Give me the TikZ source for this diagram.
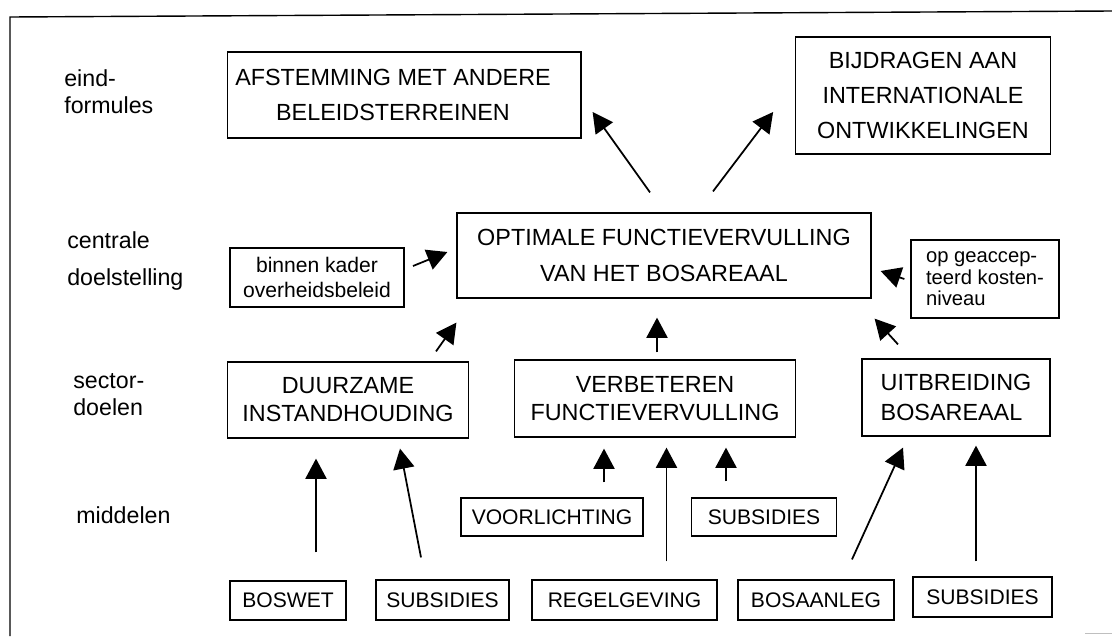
\documentclass[tikz,border=0pt]{standalone}
\usepackage{fontspec}
\setmainfont{Liberation Sans}
\usetikzlibrary{positioning,fit,arrows.meta}
\newlength\pxl
\setlength\pxl{0.02cm}
\tikzset{
  box/.style={draw, line width=0.7pt, inner sep=0pt, align=center},
  bigtxt/.style={font=\fontsize{13.3}{19.5}\selectfont},
  sectxt/.style={font=\fontsize{13.3}{16}\selectfont},
  smalltxt/.style={font=\fontsize{12}{14.2}\selectfont},
  meantxt/.style={font=\fontsize{12}{14}\selectfont},
  lvl/.style={anchor=west, inner sep=0pt, align=left, font=\fontsize{13.2}{15.3}\selectfont}
}

\begin{document}
\begin{tikzpicture}[x=0.02cm, y=-0.02cm, >={Triangle[length=11.5pt,width=12pt]}]
  \useasboundingbox (0,0) rectangle (1112,636);
  \draw[line width=0.8pt] (10,636) -- (10,17) -- (1112,11);
  \draw[gray!50, line width=0.5pt] (1085,633) -- (1112,633);

  \node[lvl] (eind) at (64,92) {eind-\\formules};
  \node[lvl, font=\fontsize{13.2}{21}\selectfont] (centr) at (67,261) {centrale\\doelstelling};
  \node[lvl] (sector) at (73,395) {sector-\\doelen};
  \node[lvl] (midd) at (76,515) {middelen};

  \coordinate (afstnw) at (227.5,52);
  \coordinate (afstse) at (581,138);
  \node[bigtxt, align=center] (afsttxt) at (393,95) {AFSTEMMING MET ANDERE\\BELEIDSTERREINEN};
  \node[box, fit=(afstnw)(afstse)] (afst) {};
  \node[box, font=\fontsize{13.3}{20}\selectfont, minimum width=255.5\pxl, minimum height=117\pxl] (bijd) at (923,95.5)
      {BIJDRAGEN AAN\\INTERNATIONALE\\ONTWIKKELINGEN};

  \node[box, font=\fontsize{13.3}{21}\selectfont, minimum width=414\pxl, minimum height=85\pxl] (opt) at (664,255.5)
      {OPTIMALE FUNCTIEVERVULLING\\VAN HET BOSAREAAL};
  \node[box, smalltxt, minimum width=174\pxl, minimum height=59\pxl] (binnen) at (317,277.5)
      {binnen kader\\overheidsbeleid};
  \node[box, font=\fontsize{11.5}{12.3}\selectfont, align=left, minimum width=148\pxl, minimum height=78\pxl] (kosten) at (985,279)
      {op geaccep-\\teerd kosten-\\niveau};

  \node[box, sectxt, minimum width=240.6\pxl, minimum height=76\pxl] (duurz) at (348,400)
      {DUURZAME\\INSTANDHOUDING};
  \node[box, sectxt, minimum width=280.5\pxl, minimum height=77\pxl] (verb) at (655,398.5)
      {VERBETEREN\\FUNCTIEVERVULLING};
  \node[box, font=\fontsize{13.3}{17}\selectfont, align=left, minimum width=188\pxl, minimum height=77\pxl] (uitbr) at (956,397.5)
      {UITBREIDING\\BOSAREAAL};

  \node[box, meantxt, minimum width=182\pxl, minimum height=38\pxl] (voorl) at (552,517) {VOORLICHTING};
  \node[box, meantxt, minimum width=145\pxl, minimum height=38\pxl] (subsm) at (764,517) {SUBSIDIES};

  \node[box, meantxt, minimum width=116\pxl, minimum height=39\pxl] (boswet) at (288,600.5) {BOSWET};
  \node[box, meantxt, minimum width=133\pxl, minimum height=40\pxl] (subsa) at (442.5,600) {SUBSIDIES};
  \node[box, meantxt, minimum width=185\pxl, minimum height=40\pxl] (regel) at (624.5,600) {REGELGEVING};
  \node[box, meantxt, minimum width=156\pxl, minimum height=40\pxl] (bosaan) at (816,600) {BOSAANLEG};
  \node[box, meantxt, minimum width=139\pxl, minimum height=40\pxl] (subsb) at (982.5,597) {SUBSIDIES};

  \draw[->, line width=1pt] ([shift={(-14,-20)}]opt.north) -- ([shift={(11,17)}]afst.east);
  \draw[->, line width=1pt] ([shift={(49,-21)}]opt.north) -- ([shift={(-21.5,16.5)}]bijd.west);
  \draw[->, line width=1pt] ([shift={(8.4,-11.5)}]binnen.east) -- ([shift={(-9,-3.5)}]opt.west);
  \draw[->, line width=1pt] ([shift={(-6,0)}]kosten.west) -- ([shift={(9,15.5)}]opt.east);
  \draw[->, line width=1pt] ([shift={(88,-10)}]duurz.north) -- ([shift={(0,24)}]opt.south west);
  \draw[->, line width=1pt] ([shift={(2,-7)}]verb.north) -- ([shift={(-7,19)}]opt.south);
  \draw[->, line width=1pt] ([shift={(-58,-14)}]uitbr.north) -- ([shift={(3,20)}]opt.south east);

  \draw[->, line width=1pt] ([shift={(28,-28)}]boswet.north) -- ([shift={(-32,20)}]duurz.south);
  \draw[->, line width=1pt] ([shift={(-21.5,-22)}]subsa.north) -- ([shift={(52,10)}]duurz.south);
  \draw[->, line width=1pt] ([shift={(52,-15)}]voorl.north) -- ([shift={(-51,11)}]verb.south);
  \draw[->, line width=1pt] ([shift={(42,-18)}]regel.north) -- ([shift={(11.5,10)}]verb.south);
  \draw[->, line width=1pt] ([shift={(-38,-16)}]subsm.north) -- ([shift={(71,10)}]verb.south);
  \draw[->, line width=1pt] ([shift={(36,-20)}]bosaan.north) -- ([shift={(-53,11)}]uitbr.south);
  \draw[->, line width=1pt] ([shift={(-6.5,-15)}]subsb.north) -- ([shift={(20,9)}]uitbr.south);
\end{tikzpicture}
\end{document}
